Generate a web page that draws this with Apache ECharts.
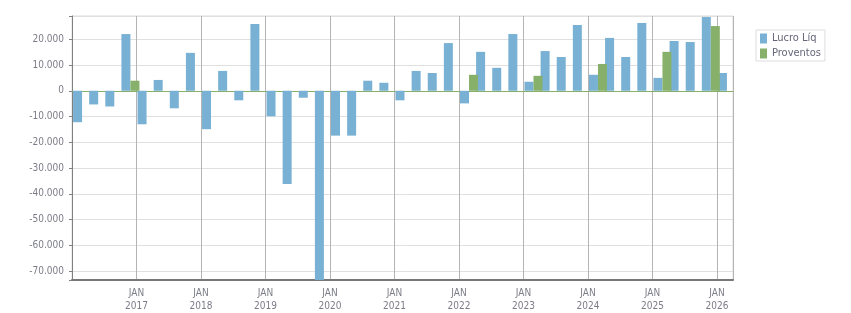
<!DOCTYPE html>
<html>
<head>
<meta charset="utf-8">
<script src="https://cdn.jsdelivr.net/npm/echarts@6/dist/echarts.min.js"></script>
<style>
  html, body { margin: 0; padding: 0; background: #fff; }
  #chart { width: 851px; height: 313px; }
</style>
</head>
<body>
<div id="chart"></div>
<script>
// trimestres de 2016T1 a 2026T1
const years = ['2016', '2017', '2018', '2019', '2020', '2021', '2022', '2023', '2024', '2025', '2026']
const quarters = []
years.forEach(y => {
  for (let q = 1; q <= 4; q++) {
    if (y === '2026' && q > 1) break
    quarters.push(y + 'T' + q)
  }
})

const lucroLiq = [
  -12200, -5300, -6100, 22000,
  -13000, 4200, -6800, 14700,
  -14900, 7700, -3700, 25900,
  -9900, -36200, -2700, -80000,
  -17400, -17400, 3900, 3100,
  -3700, 7700, 6900, 18500,
  -4900, 15100, 8900, 22000,
  3500, 15400, 13100, 25500,
  6200, 20500, 13100, 26300,
  5000, 19300, 18900, 28600,
  6900
]

const proventos = [
  0, 0, 0, 3900,
  0, 0, 0, 0,
  0, 0, 0, 0,
  0, 0, 0, 0,
  0, 0, 0, 0,
  0, 0, 0, 0,
  6200, 0, 0, 0,
  5800, 0, 0, 0,
  10400, 0, 0, 0,
  15100, 0, 0, 25100,
  0
]

const fontFamily = '"DejaVu Sans Condensed", "DejaVu Sans", sans-serif'

function fmtNum(v) {
  const s = Math.abs(v).toString().replace(/\B(?=(\d{3})+(?!\d))/g, '.')
  return (v < 0 ? '-' : '') + s
}

const chart = echarts.init(document.getElementById('chart'))
chart.setOption({
  animation: false,
  grid: {
    left: 72, right: 118, top: 16, bottom: 32,
    show: true, borderColor: '#dddddd', borderWidth: 1
  },
  legend: {
    orient: 'vertical',
    left: 756, top: 30,
    data: ['Lucro Líq', 'Proventos'],
    icon: 'rect',
    itemWidth: 7, itemHeight: 10, itemGap: 4,
    padding: [3, 4, 2, 4],
    borderColor: '#dddddd', borderWidth: 1,
    textStyle: { fontFamily, fontSize: 11, color: '#66667a' }
  },
  xAxis: {
    type: 'category',
    data: quarters,
    boundaryGap: true,
    axisLine: { onZero: false, lineStyle: { color: '#777777', width: 2 } },
    axisTick: {
      interval: i => i % 4 === 0 && i > 0,
      length: 4,
      lineStyle: { color: '#999999' }
    },
    axisLabel: {
      interval: i => i % 4 === 0 && i > 0,
      formatter: v => 'JAN\n' + v.slice(0, 4),
      fontFamily, fontSize: 10, color: '#7c7c88',
      lineHeight: 13, margin: 7,
      padding: [0, 16, 0, 0]
    },
    splitLine: {
      show: true,
      interval: i => i % 4 === 0 && i > 0,
      lineStyle: { color: '#b4b4b4', width: 1 }
    }
  },
  yAxis: {
    type: 'value',
    min: -73400,
    max: 29000,
    splitNumber: 10,
    axisLine: { show: true, lineStyle: { color: '#808080', width: 1 } },
    axisTick: { show: true, length: 3, lineStyle: { color: '#808080' } },
    axisLabel: {
      formatter: v => (v % 10000 === 0 ? fmtNum(v) : ''),
      fontFamily, fontSize: 10, color: '#7c7c88', margin: 8
    },
    splitLine: { lineStyle: { color: '#e0e0e0', width: 1 } }
  },
  series: [
    // espaçador para deslocar o grupo de barras
    { name: 'spacer', type: 'bar', barWidth: 4, barGap: '0%', data: [] },
    {
      name: 'Lucro Líq',
      type: 'bar',
      barWidth: 9,
      barGap: '0%',
      itemStyle: { color: '#78b1d3' },
      data: lucroLiq,
      z: 3
    },
    {
      name: 'Proventos',
      type: 'bar',
      barWidth: 9,
      barGap: '0%',
      itemStyle: { color: '#87b06a' },
      data: proventos,
      z: 3,
      markLine: {
        silent: true,
        symbol: 'none',
        label: { show: false },
        lineStyle: { color: '#87b06a', type: 'solid', width: 1 },
        data: [{ yAxis: 0 }],
        z: 1
      }
    }
  ]
})
</script>
</body>
</html>
